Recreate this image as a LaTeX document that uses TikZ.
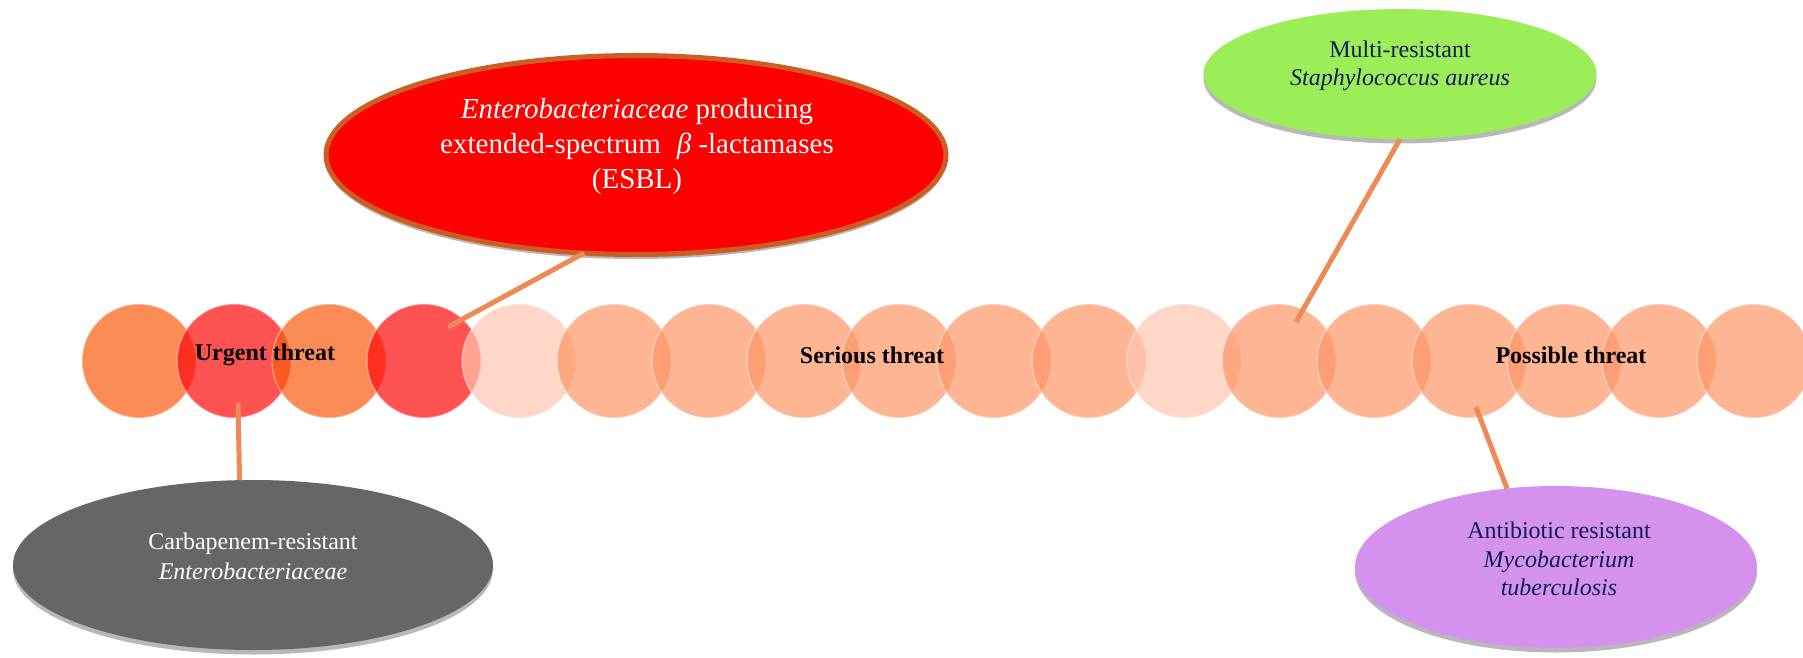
\documentclass[tikz,border=0pt]{standalone}
\usepackage{fontspec}
\setmainfont{Liberation Serif}
\usetikzlibrary{positioning,shapes.geometric,shadows}
\definecolor{CoccusOrange}{RGB}{251,91,14}
\definecolor{CoccusRed}{RGB}{255,8,8}
\definecolor{CoccusSalmon}{RGB}{252,149,102}
\definecolor{CoccusPale}{RGB}{255,198,176}
\definecolor{EsblRed}{RGB}{255,0,0}
\definecolor{EsblRim}{RGB}{204,94,36}
\definecolor{MrsaGreen}{RGB}{156,238,88}
\definecolor{CreGrey}{RGB}{102,102,102}
\definecolor{TbViolet}{RGB}{212,145,237}
\definecolor{InkNavy}{RGB}{16,30,88}
\definecolor{LinkOrange}{RGB}{239,138,86}
\tikzset{
  coccus/.style={circle,minimum size=114pt,inner sep=0pt,outer sep=0pt,
    fill opacity=0.7,draw=white,draw opacity=0.35,line width=1.5pt},
  orangecoccus/.style={coccus,fill=CoccusOrange},
  redcoccus/.style={coccus,fill=CoccusRed},
  salmoncoccus/.style={coccus,fill=CoccusSalmon},
  palecoccus/.style={coccus,fill=CoccusPale},
  callout/.style={ellipse,inner sep=0pt,outer sep=0pt,
    drop shadow={shadow xshift=0pt,shadow yshift=-4.5pt,fill=black!28,opacity=1}},
  calltext/.style={align=center,font=\fontsize{24}{28.5}\selectfont},
  threat/.style={font=\fontsize{24}{28}\selectfont\bfseries},
  link/.style={line width=5pt,draw=LinkOrange,
    preaction={draw=black!30,transform canvas={shift={(1.5pt,-1.5pt)}}}}
}
\begin{document}
\begin{tikzpicture}[x=1pt,y=1pt,node distance=-19pt]
  \path[use as bounding box,clip] (0,0) rectangle (1803,-658);
  % call-out bubbles
  \node[callout,fill=EsblRed,draw=EsblRim,line width=5pt,
    minimum width=620pt,minimum height=199pt] (esbl) at (636,-155) {};
  \node[callout,fill=MrsaGreen,minimum width=393pt,minimum height=130pt] (mrsa) at (1400,-74) {};
  \node[callout,fill=CreGrey,minimum width=480pt,minimum height=170pt] (cre) at (253,-565) {};
  \node[callout,fill=TbViolet,minimum width=402pt,minimum height=162pt] (tb) at (1556,-567) {};

  % chain of cocci
  \node[orangecoccus] (c1) at (139,-361) {};
  \node[redcoccus,right=of c1] (c2) {};
  \node[orangecoccus,right=of c2] (c3) {};
  \node[redcoccus,right=of c3] (c4) {};
  \node[palecoccus,right=of c4] (c5) {};
  \node[salmoncoccus,right=of c5] (c6) {};
  \node[salmoncoccus,right=of c6] (c7) {};
  \node[salmoncoccus,right=of c7] (c8) {};
  \node[salmoncoccus,right=of c8] (c9) {};
  \node[salmoncoccus,right=of c9] (c10) {};
  \node[salmoncoccus,right=of c10] (c11) {};
  \node[palecoccus,right=of c11] (c12) {};
  \node[salmoncoccus,right=of c12] (c13) {};
  \node[salmoncoccus,right=of c13] (c14) {};
  \node[salmoncoccus,right=of c14] (c15) {};
  \node[salmoncoccus,right=of c15] (c16) {};
  \node[salmoncoccus,right=of c16] (c17) {};
  \node[salmoncoccus,right=of c17] (c18) {};

  \node[threat] (urgent) at (265,-355) {Urgent threat};
  \node[threat] (serious) at (872,-355) {Serious threat};
  \node[threat] (possible) at (1571,-355) {Possible threat};

  % pointers
  \draw[link] ([shift={(4,-42)}]c2.center) -- (cre.99);
  \draw[link] ([shift={(24,34)}]c4.center) -- (esbl.242);
  \draw[link] ([shift={(17,39)}]c13.center) -- (mrsa.south);
  \draw[link] ([shift={(7,-46)}]c15.center) -- (tb.122);

  \node[calltext,white,font=\fontsize{29}{35}\selectfont] (esblText) at (637,-147)
    {\textit{Enterobacteriaceae} producing\\extended-spectrum\hspace{0.55em}\textit{β} -lactamases\\(ESBL)};
  \node[calltext,text=InkNavy,font=\fontsize{24}{28}\selectfont] (mrsaText) at (1400,-66)
    {Multi-resistant\\\textit{Staphylococcus aureus}};
  \node[calltext,white,font=\fontsize{24}{30}\selectfont] (creText) at (253,-556)
    {Carbapenem-resistant\\\textit{Enterobacteriaceae}};
  \node[calltext,text=InkNavy] (tbText) at (1559,-559)
    {Antibiotic resistant\\\textit{Mycobacterium}\\\textit{tuberculosis}};
\end{tikzpicture}
\end{document}
